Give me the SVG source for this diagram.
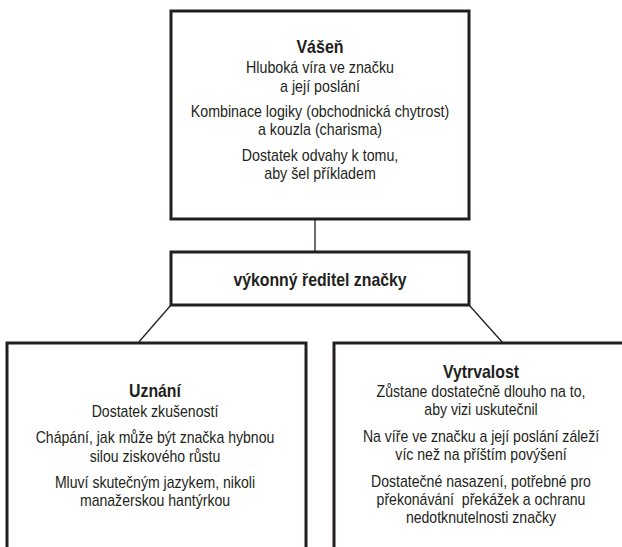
<svg xmlns="http://www.w3.org/2000/svg" width="622" height="547" viewBox="0 0 622 547">
  <style>
    .box { fill: #ffffff; stroke: #231f20; stroke-width: 3; }
    .link { fill: none; stroke: #231f20; stroke-width: 1.3; }
    text { font-family: "Liberation Sans", Arial, sans-serif; fill: #231f20; text-anchor: middle; }
    .title { font-size: 18px; font-weight: bold; }
    .body { font-size: 16px; }
    .role { font-size: 18px; font-weight: bold; }
    .pre { white-space: pre; }
  </style>
  <rect width="622" height="547" fill="#ffffff"/>

  <g id="connectors">
    <line class="link" x1="315" y1="219" x2="315" y2="252"/>
    <line class="link" x1="171" y1="305" x2="138" y2="343"/>
    <line class="link" x1="469" y1="305" x2="503" y2="343"/>
  </g>

  <g id="passion">
    <rect class="box" x="171" y="11" width="298" height="208"/>
    <!-- condensed lettering: narrowed horizontally around the box centre line -->
    <g transform="translate(320,0) scale(0.89,1)">
      <text class="title" x="0" y="53">Vášeň</text>
      <text class="body" x="0" y="73">Hluboká víra ve značku</text>
      <text class="body" x="0" y="92">a její poslání</text>
      <text class="body" x="0" y="117">Kombinace logiky (obchodnická chytrost)</text>
      <text class="body" x="0" y="135">a kouzla (charisma)</text>
      <text class="body" x="0" y="161">Dostatek odvahy k tomu,</text>
      <text class="body" x="0" y="179">aby šel příkladem</text>
    </g>
  </g>

  <g id="brand-ceo">
    <rect class="box" x="171" y="252" width="298" height="53"/>
    <g transform="translate(320,0) scale(0.88,1)">
      <text class="role" x="0" y="286">výkonný ředitel značky</text>
    </g>
  </g>

  <g id="recognition">
    <rect class="box" x="7" y="343" width="299" height="220"/>
    <g transform="translate(155,0) scale(0.88,1)">
      <text class="title" x="0" y="397">Uznání</text>
      <text class="body" x="0" y="417">Dostatek zkušeností</text>
      <text class="body" x="0" y="443">Chápání, jak může být značka hybnou</text>
      <text class="body" x="0" y="462">silou ziskového růstu</text>
      <text class="body" x="0" y="488">Mluví skutečným jazykem, nikoli</text>
      <text class="body" x="0" y="506">manažerskou hantýrkou</text>
    </g>
  </g>

  <g id="persistence">
    <rect class="box" x="334" y="343" width="300" height="220"/>
    <g transform="translate(481,0) scale(0.88,1)">
      <text class="title" x="0" y="378">Vytrvalost</text>
      <text class="body" x="0" y="397">Zůstane dostatečně dlouho na to,</text>
      <text class="body" x="0" y="415">aby vizi uskutečnil</text>
      <text class="body" x="0" y="442">Na víře ve značku a její poslání záleží</text>
      <text class="body" x="0" y="460">víc než na příštím povýšení</text>
      <text class="body" x="0" y="487">Dostatečné nasazení, potřebné pro</text>
      <text class="body pre" x="0" y="505">překonávání  překážek a ochranu</text>
      <text class="body" x="0" y="523">nedotknutelnosti značky</text>
    </g>
  </g>
</svg>
